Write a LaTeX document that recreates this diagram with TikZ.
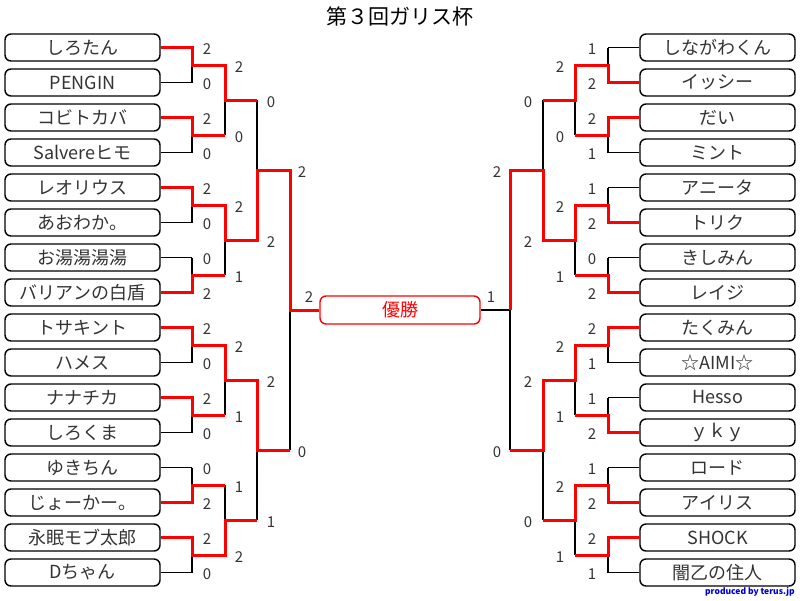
\documentclass[tikz,border=0pt]{standalone}
\usepackage{fontspec}
\setmainfont{Noto Sans CJK JP}
\begin{document}
\begin{tikzpicture}[x=1pt,y=-1pt,
  pbox/.style={draw,line width=1.4pt,rounded corners=6pt,minimum width=155pt,minimum height=27pt,inner sep=0pt,font=\fontsize{18}{18}\selectfont,text=black!80},
  sc/.style={font=\fontsize{15}{15}\selectfont,text=black!80,inner sep=0pt},
  bl/.style={line width=1.5pt,black},
  rd/.style={line width=3pt,red,line join=miter}]
\useasboundingbox (0,0) rectangle (800,600);
\node[font=\fontsize{21}{21}\selectfont] (title) at (400,16) {第３回ガリス杯};
\node[font=\bfseries\fontsize{8.5}{9}\selectfont,text=blue!80!black,anchor=south east,inner sep=0pt] (credit) at (795,597) {produced by terus.jp};
% boxes
\foreach \n [count=\i from 0] in {しろたん,PENGIN,コビトカバ,Salvereヒモ,レオリウス,あおわか。,お湯湯湯湯,バリアンの白盾,トサキント,ハメス,ナナチカ,しろくま,ゆきちん,じょーかー。,永眠モブ太郎,Dちゃん}
  \node[pbox] (L\i) at (82.5,47.5+35*\i) {\n};
\foreach \n [count=\i from 0] in {しながわくん,イッシー,だい,ミント,アニータ,トリク,きしみん,レイジ,たくみん,☆AIMI☆,Hesso,ｙｋｙ,ロード,アイリス,SHOCK,闇乙の住人}
  \node[pbox] (R\i) at (717.5,47.5+35*\i) {\n};
\node[draw=red,line width=1.4pt,rounded corners=6pt,minimum width=160pt,minimum height=28pt,text=red,font=\fontsize{18}{18}\selectfont] (champ) at (400,310) {優勝};
% black skeleton
\foreach \i in {0,...,15}{
  \draw[bl] (L\i.east) -- (192,47.5+35*\i);
  \draw[bl] (R\i.west) -- (608,47.5+35*\i);}
\foreach \j in {0,...,7}{
  \draw[bl] (192,47.5+70*\j) -- (192,82.5+70*\j);
  \draw[bl] (192,65+70*\j) -- (225,65+70*\j);
  \draw[bl] (608,47.5+70*\j) -- (608,82.5+70*\j);
  \draw[bl] (608,65+70*\j) -- (575,65+70*\j);}
\foreach \j in {0,...,3}{
  \draw[bl] (225,65+140*\j) -- (225,135+140*\j);
  \draw[bl] (225,100+140*\j) -- (257,100+140*\j);
  \draw[bl] (575,65+140*\j) -- (575,135+140*\j);
  \draw[bl] (575,100+140*\j) -- (543,100+140*\j);}
\foreach \j in {0,1}{
  \draw[bl] (257,100+280*\j) -- (257,240+280*\j);
  \draw[bl] (257,170+280*\j) -- (290,170+280*\j);
  \draw[bl] (543,100+280*\j) -- (543,240+280*\j);
  \draw[bl] (543,170+280*\j) -- (510,170+280*\j);}
\draw[bl] (290,170) -- (290,450);
\draw[bl] (510,170) -- (510,450);
\draw[bl] (290,310) -- (champ.west);
\draw[bl] (510,310) -- (champ.east);
% red paths left
\draw[rd] (L0.east) -- (192,47.5) -- (192,65) -- (225,65) -- (225,100) -- (257,100);
\draw[rd] (L2.east) -- (192,117.5) -- (192,135) -- (225,135);
\draw[rd] (L4.east) -- (192,187.5) -- (192,205) -- (225,205) -- (225,240) -- (257,240) -- (257,170) -- (290,170) -- (290,310) -- (champ.west);
\draw[rd] (L7.east) -- (192,292.5) -- (192,275) -- (225,275);
\draw[rd] (L8.east) -- (192,327.5) -- (192,345) -- (225,345) -- (225,380) -- (257,380) -- (257,450) -- (290,450);
\draw[rd] (L10.east) -- (192,397.5) -- (192,415) -- (225,415);
\draw[rd] (L13.east) -- (192,502.5) -- (192,485) -- (225,485);
\draw[rd] (L14.east) -- (192,537.5) -- (192,555) -- (225,555) -- (225,520) -- (257,520);
% red paths right
\draw[rd] (R1.west) -- (608,82.5) -- (608,65) -- (575,65) -- (575,100) -- (543,100);
\draw[rd] (R2.west) -- (608,117.5) -- (608,135) -- (575,135);
\draw[rd] (R5.west) -- (608,222.5) -- (608,205) -- (575,205) -- (575,240) -- (543,240) -- (543,170) -- (510,170) -- (510,310);
\draw[rd] (R7.west) -- (608,292.5) -- (608,275) -- (575,275);
\draw[rd] (R8.west) -- (608,327.5) -- (608,345) -- (575,345) -- (575,380) -- (543,380) -- (543,450) -- (510,450);
\draw[rd] (R11.west) -- (608,432.5) -- (608,415) -- (575,415);
\draw[rd] (R13.west) -- (608,502.5) -- (608,485) -- (575,485) -- (575,520) -- (543,520);
\draw[rd] (R14.west) -- (608,537.5) -- (608,555) -- (575,555);
% scores left
\foreach \s [count=\i from 0] in {2,0,2,0,2,0,0,2,2,0,2,0,0,2,2,0}
  \node[sc] (sl1\i) at (207,49.5+35*\i) {\s};
\foreach \s [count=\i from 0] in {2,0,2,1,2,1,1,2}
  \node[sc] (sl2\i) at (239,67+70*\i) {\s};
\foreach \s [count=\i from 0] in {0,2,2,1}
  \node[sc] (sl3\i) at (271,102+140*\i) {\s};
\node[sc] (sl40) at (302,172) {2};
\node[sc] (sl41) at (302,452) {0};
\node[sc] (fl) at (309,297) {2};
% scores right
\foreach \s [count=\i from 0] in {1,2,2,1,1,2,0,2,2,1,1,2,1,2,2,1}
  \node[sc] (sr1\i) at (592,49.5+35*\i) {\s};
\foreach \s [count=\i from 0] in {2,0,2,1,2,1,2,1}
  \node[sc] (sr2\i) at (560,67+70*\i) {\s};
\foreach \s [count=\i from 0] in {0,2,2,0}
  \node[sc] (sr3\i) at (528,102+140*\i) {\s};
\node[sc] (sr40) at (497,172) {2};
\node[sc] (sr41) at (497,452) {0};
\node[sc] (fr) at (491,297) {1};
\end{tikzpicture}
\end{document}
